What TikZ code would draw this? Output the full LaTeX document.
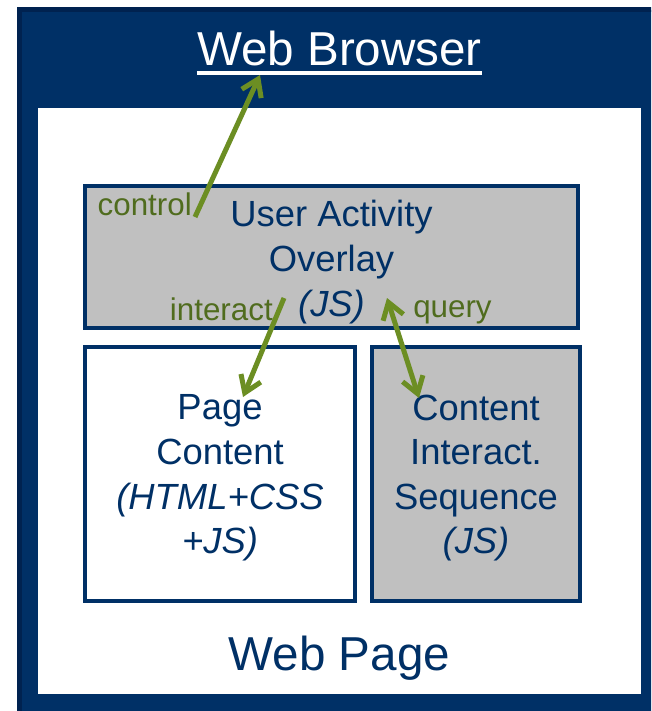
\documentclass[tikz,border=0pt]{standalone}
\usepackage{fontspec}
\setmainfont{Liberation Sans}
\usetikzlibrary{arrows.meta}
\definecolor{navy}{RGB}{0,48,102}
\definecolor{navyedge}{RGB}{0,34,80}
\definecolor{boxgray}{RGB}{192,192,192}
\definecolor{arrowgreen}{RGB}{108,142,35}
\definecolor{labelgreen}{RGB}{80,108,30}
\tikzset{
  layer/.style={draw=navy, line width=3pt, inner sep=0pt},
  layertext/.style={inner sep=0pt, align=center, text=navy, font=\fontsize{27.3}{33.4}\selectfont},
  link/.style={draw=arrowgreen, line width=3.75pt, -{Straight Barb[length=12pt,width=16pt]}},
  tag/.style={text=labelgreen, inner sep=0pt, font=\fontsize{23.5}{28}\selectfont},
}

\begin{document}
\begin{tikzpicture}[x=0.75pt, y=-0.75pt]
  \useasboundingbox (0,0) rectangle (651,711);
  \clip (0,0) rectangle (651,711);
  \fill[navy, draw=navyedge, line width=3.75pt] (19.5,9.5) rectangle (690,740);
  \fill[white] (38,108) rectangle (641,694);
  \node[anchor=base, text=white, inner sep=0pt, font=\fontsize{35.7}{40}\selectfont]
    (browser) at (339.5,65) {Web Browser};
  \draw[white, line width=2.3pt] ([yshift=-6pt]browser.base west) -- ([yshift=-6pt]browser.base east);
  \node[anchor=base, text=navy, inner sep=0pt, font=\fontsize{35.7}{40}\selectfont]
    (page) at (339.5,670) {Web Page};

  \node[layer, fill=boxgray, minimum width=369.75pt, minimum height=106.5pt] (overlay) at (331.5,257) {};
  \node[layer, fill=white, minimum width=202.5pt, minimum height=190.5pt] (content) at (220,474) {};
  \node[layer, fill=boxgray, minimum width=156pt, minimum height=190.5pt] (sequence) at (476,474) {};
  \node[layertext, yshift=-3.8pt] (overlaytext) at (overlay) {User Activity\\Overlay\\\textit{(JS)}};
  \node[layertext, yshift=-3pt] (contenttext) at (content) {Page\\Content\\\textit{(HTML+CSS}\\\textit{+JS)}};
  \node[layertext, yshift=-3pt] (sequencetext) at (sequence) {Content\\Interact.\\Sequence\\\textit{(JS)}};

  \node[tag, anchor=base east] (ctllabel) at (192,215) {control};
  \node[tag, anchor=base east] (intlabel) at (273,320) {interact};
  \node[tag, anchor=base west] (qrylabel) at (413,317) {query};

  \coordinate (ctlfrom) at (195,217);
  \coordinate (ctlto) at (260,75);
  \coordinate (intfrom) at (284,298);
  \coordinate (intto) at (243,397);
  \coordinate (qryfrom) at (387,298);
  \coordinate (qryto) at (419,398);
  \draw[link] (ctlfrom) -- (ctlto);
  \draw[link] (intfrom) -- (intto);
  \draw[link, {Straight Barb[length=12pt,width=16pt]}-{Straight Barb[length=12pt,width=16pt]}] (qryfrom) -- (qryto);
\end{tikzpicture}
\end{document}
